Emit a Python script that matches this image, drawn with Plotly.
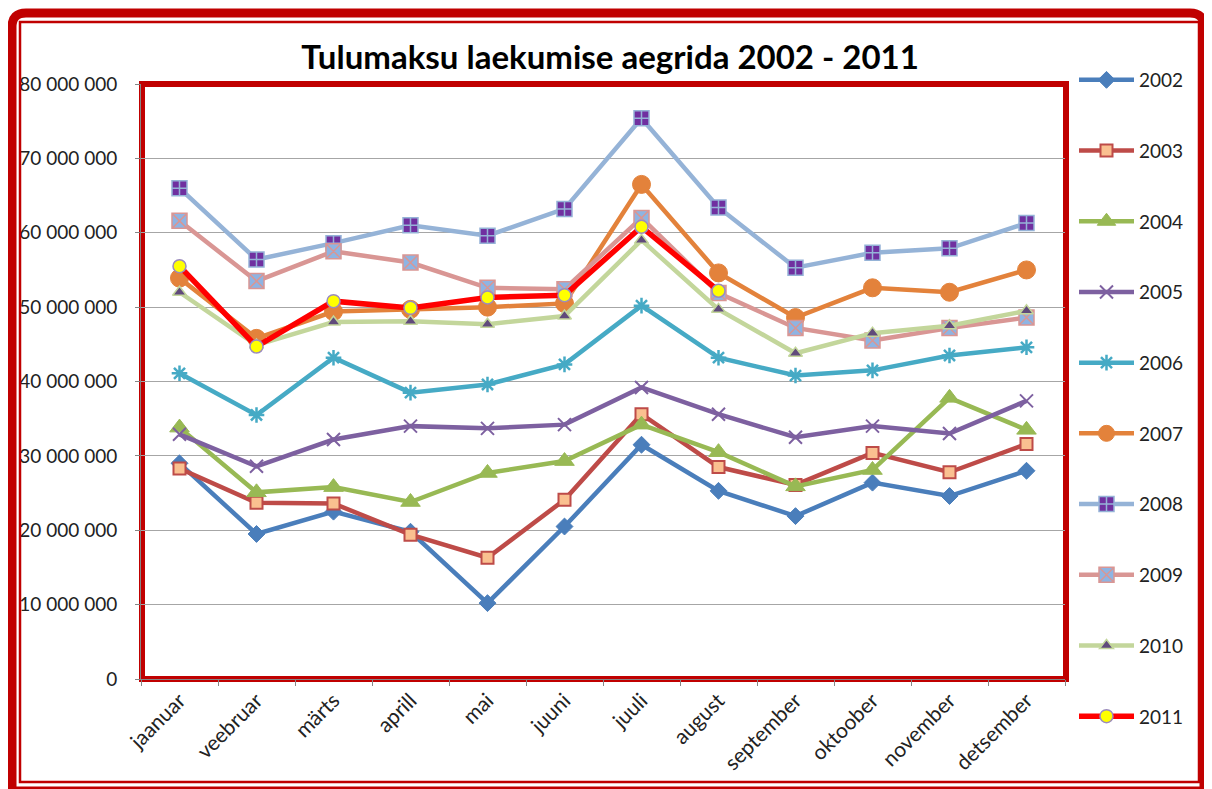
import plotly.graph_objects as go

months = ["jaanuar", "veebruar", "märts", "aprill", "mai", "juuni", "juuli",
          "august", "september", "oktoober", "november", "detsember"]

y2002 = [29000000, 19500000, 22500000, 19800000, 10200000, 20500000, 31500000, 25300000, 21900000, 26400000, 24600000, 28000000]
y2003 = [28300000, 23700000, 23600000, 19400000, 16300000, 24100000, 35600000, 28500000, 26100000, 30400000, 27800000, 31600000]
y2004 = [33800000, 25100000, 25800000, 23800000, 27700000, 29300000, 34200000, 30500000, 25900000, 28100000, 37800000, 33500000]
y2005 = [32900000, 28600000, 32200000, 34000000, 33700000, 34200000, 39200000, 35600000, 32500000, 34000000, 33000000, 37400000]
y2006 = [41100000, 35500000, 43200000, 38500000, 39600000, 42300000, 50200000, 43200000, 40800000, 41500000, 43500000, 44600000]
y2007 = [53900000, 45800000, 49400000, 49700000, 50000000, 50500000, 66500000, 54600000, 48600000, 52600000, 52000000, 55000000]
y2008 = [66000000, 56400000, 58600000, 61000000, 59600000, 63200000, 75400000, 63400000, 55300000, 57300000, 57900000, 61300000]
y2009 = [61600000, 53500000, 57500000, 56000000, 52600000, 52400000, 62000000, 51900000, 47200000, 45500000, 47200000, 48600000]
y2010 = [52000000, 44900000, 48000000, 48100000, 47700000, 48800000, 59000000, 49700000, 43800000, 46500000, 47500000, 49500000]
y2011 = [55500000, 44700000, 50800000, 49900000, 51300000, 51600000, 60800000, 52200000, None, None, None, None]

series = [
    ("2002", y2002, dict(color="#4A7EBB", width=4.5), dict(symbol="diamond", size=13, color="#4A7EBB", line=dict(color="#4A7EBB", width=1))),
    ("2003", y2003, dict(color="#BE4B48", width=4.5), dict(symbol="square", size=12, color="#FAC090", line=dict(color="#BE4B48", width=2))),
    ("2004", y2004, dict(color="#98B954", width=4.5), dict(symbol="triangle-up", size=17, color="#98B954", line=dict(color="#98B954", width=1))),
    ("2005", y2005, dict(color="#7D60A0", width=4.5), dict(symbol="x-thin-open", size=13, color="#7D60A0", line=dict(color="#7D60A0", width=2))),
    ("2006", y2006, dict(color="#46AAC5", width=4.5), dict(symbol="asterisk-open", size=13, color="#46AAC5", line=dict(color="#46AAC5", width=2.5))),
    ("2007", y2007, dict(color="#E3823B", width=4.5), dict(symbol="circle", size=18, color="#E3823B", line=dict(color="#E3823B", width=1))),
    ("2008", y2008, dict(color="#95B3D7", width=4.5), dict(symbol="square-cross", size=15, color="#7030A0", line=dict(color="#95B3D7", width=1.5))),
    ("2009", y2009, dict(color="#D99694", width=4.5), dict(symbol="square-x", size=15, color="#8EB4E3", line=dict(color="#D99694", width=1.5))),
    ("2010", y2010, dict(color="#C3D69B", width=4.5), dict(symbol="triangle-up", size=12, color="#604A7B", line=dict(color="#C3D69B", width=1.5))),
    ("2011", y2011, dict(color="#FF0000", width=5.5), dict(symbol="circle", size=13, color="#FFFF00", line=dict(color="#9B8BBE", width=1.5))),
]

FONT = "Lato"
W, H = 1212, 789
OFF = 8  # page offset of the figure inside the browser window
# plot area in screen pixels
SL, SR, ST, SB = 141, 1065, 84, 679
L, R, T, B = SL - OFF, SR - OFF, ST - OFF, SB - OFF


def px(x):
    return ((x - OFF) - L) / (R - L)


def py(y):
    return (B - (y - OFF)) / (B - T)


fig = go.Figure()
for name, vals, line, marker in series:
    fig.add_trace(go.Scatter(
        x=months, y=vals, name=name, mode="lines+markers",
        line=line, marker=marker, legendgroup=name,
    ))

# outer rounded frame (screen coords)
x0, y0, x1, y1, r = 12, 13, 1204, 791, 14
outer = (f"M {px(x0)},{py(y0 + r)} L {px(x0)},{py(y1)} L {px(x1)},{py(y1)} "
         f"L {px(x1)},{py(y0 + r)} Q {px(x1)},{py(y0)} {px(x1 - r)},{py(y0)} "
         f"L {px(x0 + r)},{py(y0)} Q {px(x0)},{py(y0)} {px(x0)},{py(y0 + r)} Z")

shapes = [
    dict(type="path", xref="paper", yref="paper", path=outer,
         line=dict(color="#C00000", width=9), layer="above"),
    dict(type="rect", xref="paper", yref="paper", x0=px(20), y0=py(22), x1=px(1199), y1=py(782),
         line=dict(color="#C00000", width=2.5), layer="above"),
    dict(type="rect", xref="paper", yref="paper", x0=px(142), y0=py(84), x1=px(1066), y1=py(679),
         line=dict(color="#C00000", width=6), layer="below"),
]

fig.update_layout(
    width=W, height=H,
    margin=dict(l=L, r=W - R, t=T, b=H - B),
    paper_bgcolor="white", plot_bgcolor="white",
    font=dict(family=FONT, size=18, color="#222222"),
    separators=". ",
    title=dict(text="<b>Tulumaksu laekumise aegrida 2002 - 2011</b>",
               x=px(610), xref="paper", xanchor="center",
               y=1 - (57 - OFF) / H, yref="container", yanchor="middle",
               font=dict(family=FONT, size=33, color="#000000")),
    showlegend=True,
    legend=dict(x=px(1074), xanchor="left", y=py(61), yanchor="top",
                font=dict(family=FONT, size=19, color="#222222"),
                itemwidth=55, tracegroupgap=43, traceorder="grouped",
                maxheight=1, bgcolor="rgba(0,0,0,0)"),
    shapes=shapes,
)

fig.update_xaxes(
    type="category", range=[-0.5, 11.5], tickson="boundaries",
    ticks="outside", ticklen=6, tickcolor="#868686", tickwidth=1,
    showline=True, linecolor="#868686", linewidth=1,
    showgrid=False, tickangle=-45, tickfont=dict(size=21),
)
fig.update_yaxes(
    range=[0, 80000000], dtick=10000000, tickformat=",d",
    ticks="outside", ticklen=5, tickcolor="#868686",
    showline=True, linecolor="#868686", linewidth=1,
    showgrid=True, gridcolor="#A6A6A6", gridwidth=1,
    zeroline=False, ticklabelstandoff=14, tickfont=dict(size=19),
)

fig.write_html("out.html")
